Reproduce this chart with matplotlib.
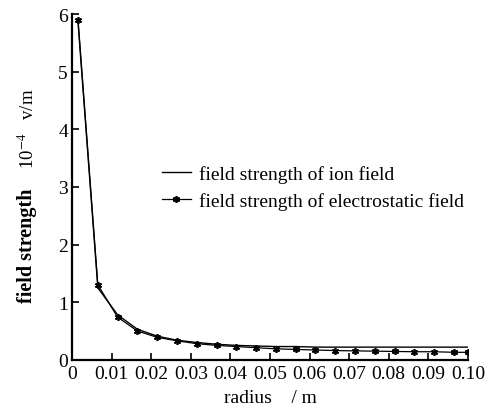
import matplotlib.pyplot as plt
import numpy as np

plt.rcParams['font.family'] = ['Liberation Serif', 'DejaVu Serif']
plt.rcParams['mathtext.fontset'] = 'stix'

# radius (m)
radius = [0.0015, 0.0065, 0.0115, 0.0165, 0.0215, 0.0265, 0.0315, 0.0365,
          0.0415, 0.0465, 0.0515, 0.0565, 0.0615, 0.0665, 0.0715, 0.0765,
          0.0815, 0.0865, 0.0915, 0.0965, 0.1]

# field strength (10^-4 v/m)
ion_field = [5.85, 1.25, 0.78, 0.53, 0.41, 0.34, 0.30, 0.27, 0.25, 0.24,
             0.23, 0.23, 0.22, 0.22, 0.22, 0.22, 0.22, 0.22, 0.22, 0.22, 0.22]
electro_field = [5.9, 1.3, 0.74, 0.5, 0.39, 0.33, 0.28, 0.25, 0.23, 0.21,
                 0.19, 0.18, 0.17, 0.16, 0.155, 0.15, 0.145, 0.14, 0.14,
                 0.13, 0.13]

xticks = [0, 0.01, 0.02, 0.03, 0.04, 0.05, 0.06, 0.07, 0.08, 0.09, 0.10]
xtick_labels = ['0', '0.01', '0.02', '0.03', '0.04', '0.05', '0.06',
                '0.07', '0.08', '0.09', '0.10']
yticks = [0, 1, 2, 3, 4, 5, 6]

fig = plt.figure(figsize=(4.94, 4.10), dpi=100)
ax = fig.add_axes([0.146, 0.12, 0.801, 0.843])

ax.plot(radius, ion_field, color='black', lw=1.0,
        label='field strength of ion field')
ax.plot(radius, electro_field, color='black', lw=0.9, marker=(6, 2, 0),
        ms=5, mew=1.2, label='field strength of electrostatic field')

ax.set_xlim(0, 0.1)
ax.set_ylim(0, 6)
ax.set_xticks(xticks)
ax.set_xticklabels(xtick_labels)
ax.set_yticks(yticks)
ax.tick_params(direction='in', length=5, width=1.2, labelsize=14)
ax.tick_params(axis='x', pad=4)
ax.tick_params(axis='y', pad=3)

ax.spines['top'].set_visible(False)
ax.spines['right'].set_visible(False)
ax.spines['left'].set_linewidth(1.6)
ax.spines['bottom'].set_linewidth(1.6)

ax.set_xlabel('radius    / m', fontsize=14, labelpad=5)
fig.text(0.055, 0.40, 'field strength', rotation=90, fontsize=14.5,
         fontweight='bold', ha='center', va='center')
fig.text(0.057, 0.687, r'10$^{-4}$   v/m', rotation=90, fontsize=13.5,
         ha='center', va='center')

ax.legend(loc='upper left', bbox_to_anchor=(0.207, 0.585), frameon=False,
          fontsize=14, handlelength=1.5, handletextpad=0.4,
          labelspacing=0.45, borderaxespad=0)

fig.savefig('out.png', dpi=100)
